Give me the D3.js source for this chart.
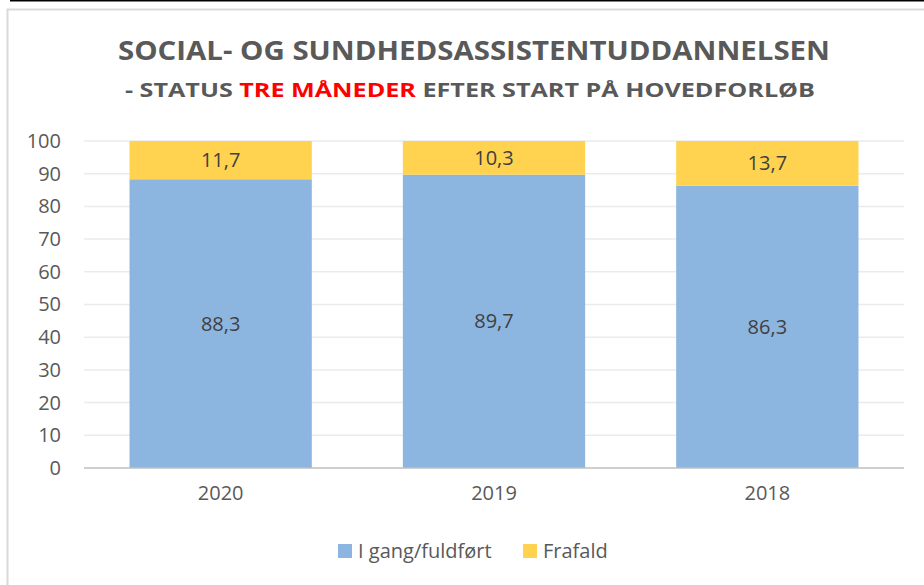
<!DOCTYPE html>
<html>
<head>
<meta charset="utf-8">
<script src="https://cdn.jsdelivr.net/npm/d3@7"></script>
<style>
  body { margin: 0; background: #fff; }
  svg { display: block; font-family: "Open Sans", "DejaVu Sans", sans-serif; }
</style>
</head>
<body>
<svg width="924" height="585"></svg>
<script>
// data
const years = ["2020", "2019", "2018"];
const iGang = [88.3, 89.7, 86.3];
const frafald = [11.7, 10.3, 13.7];
const seriesNames = ["I gang/fuldført", "Frafald"];
const seriesColors = ["#8cb6e0", "#ffd34f"];
const yTicks = [0, 10, 20, 30, 40, 50, 60, 70, 80, 90, 100];

const svg = d3.select("svg");

// top black rule + chart frame
svg.append("line")
    .attr("x1", 10).attr("x2", 924)
    .attr("y1", 0.5).attr("y2", 0.5)
    .attr("stroke", "#000").attr("stroke-width", 2);

svg.append("rect")
    .attr("x", 7.5).attr("y", 9.5)
    .attr("width", 930).attr("height", 600)
    .attr("fill", "none")
    .attr("stroke", "#d9d9d9").attr("stroke-width", 2);

// titles
svg.append("text")
    .attr("x", 474).attr("y", 60)
    .attr("text-anchor", "middle")
    .attr("textLength", 712).attr("lengthAdjust", "spacingAndGlyphs")
    .style("font-size", "26px").style("font-weight", "bold")
    .style("fill", "#595959")
    .text("SOCIAL- OG SUNDHEDSASSISTENTUDDANNELSEN");

const sub = svg.append("text")
    .attr("x", 470).attr("y", 97)
    .attr("text-anchor", "middle")
    .attr("textLength", 690).attr("lengthAdjust", "spacingAndGlyphs")
    .style("font-size", "20px").style("font-weight", "bold")
    .style("fill", "#595959");
sub.append("tspan").text("- STATUS ");
sub.append("tspan").style("fill", "#ff0000").text("TRE MÅNEDER");
sub.append("tspan").text(" EFTER START PÅ HOVEDFORLØB");

// scales
const plotLeft = 84, plotRight = 904, plotTop = 141, plotBottom = 468;
const x = d3.scaleBand().domain(years).range([plotLeft, plotRight]).paddingInner(0.333).paddingOuter(0.1665);
const y = d3.scaleLinear().domain([0, 100]).range([plotBottom, plotTop]);

// gridlines
svg.append("g")
    .selectAll("line")
    .data(yTicks.filter(d => d > 0))
    .enter()
    .append("line")
    .attr("x1", plotLeft).attr("x2", plotRight)
    .attr("y1", d => y(d)).attr("y2", d => y(d))
    .attr("stroke", "#ebebeb").attr("stroke-width", 1.5);

// y axis labels
const yAxis = svg.append("g")
    .attr("transform", "translate(" + plotLeft + ",0)")
    .call(d3.axisLeft(y).tickValues(yTicks).tickSize(0).tickPadding(23));
yAxis.select(".domain").remove();
yAxis.selectAll("text")
    .style("font-size", "20px").style("fill", "#595959")
    .style("font-family", "Open Sans, sans-serif");

// stacked bars
const rows = years.map((yr, i) => ({ year: yr, a: iGang[i], b: frafald[i] }));

svg.append("g")
    .selectAll("rect")
    .data(rows)
    .enter()
    .append("rect")
    .attr("x", d => x(d.year))
    .attr("width", x.bandwidth())
    .attr("y", d => y(d.a))
    .attr("height", d => y(0) - y(d.a))
    .attr("fill", seriesColors[0]);

svg.append("g")
    .selectAll("rect")
    .data(rows)
    .enter()
    .append("rect")
    .attr("x", d => x(d.year))
    .attr("width", x.bandwidth())
    .attr("y", d => y(d.a + d.b))
    .attr("height", d => y(d.a) - y(d.a + d.b))
    .attr("fill", seriesColors[1]);

// data labels
const fmt = v => v.toFixed(1).replace(".", ",");
svg.append("g")
    .selectAll("text")
    .data(rows)
    .enter()
    .append("text")
    .attr("x", d => x(d.year) + x.bandwidth() / 2)
    .attr("y", d => y(d.a / 2) + 7)
    .attr("text-anchor", "middle")
    .style("font-size", "20px").style("fill", "#404040")
    .text(d => fmt(d.a));

svg.append("g")
    .selectAll("text")
    .data(rows)
    .enter()
    .append("text")
    .attr("x", d => x(d.year) + x.bandwidth() / 2)
    .attr("y", d => y(d.a + d.b / 2) + 7)
    .attr("text-anchor", "middle")
    .style("font-size", "20px").style("fill", "#404040")
    .text(d => fmt(d.b));

// x axis
const xAxis = svg.append("g")
    .attr("transform", "translate(0," + plotBottom + ")")
    .call(d3.axisBottom(x).tickSize(0).tickPadding(18));
xAxis.select(".domain").attr("stroke", "#bfbfbf").attr("stroke-width", 1.5)
    .attr("d", "M" + plotLeft + ",0H" + plotRight);
xAxis.selectAll("text")
    .style("font-size", "20px").style("fill", "#595959")
    .style("font-family", "Open Sans, sans-serif");

// legend
const legend = svg.append("g").attr("transform", "translate(338,551)");
const legendX = [0, 185];
seriesNames.forEach((name, i) => {
    const item = legend.append("g").attr("transform", "translate(" + legendX[i] + ",0)");
    item.append("rect")
        .attr("x", 0).attr("y", -7)
        .attr("width", 14).attr("height", 14)
        .attr("fill", seriesColors[i]);
    item.append("text")
        .attr("x", 20).attr("y", 7)
        .style("font-size", "20px").style("fill", "#595959")
        .text(name);
});
</script>
</body>
</html>
